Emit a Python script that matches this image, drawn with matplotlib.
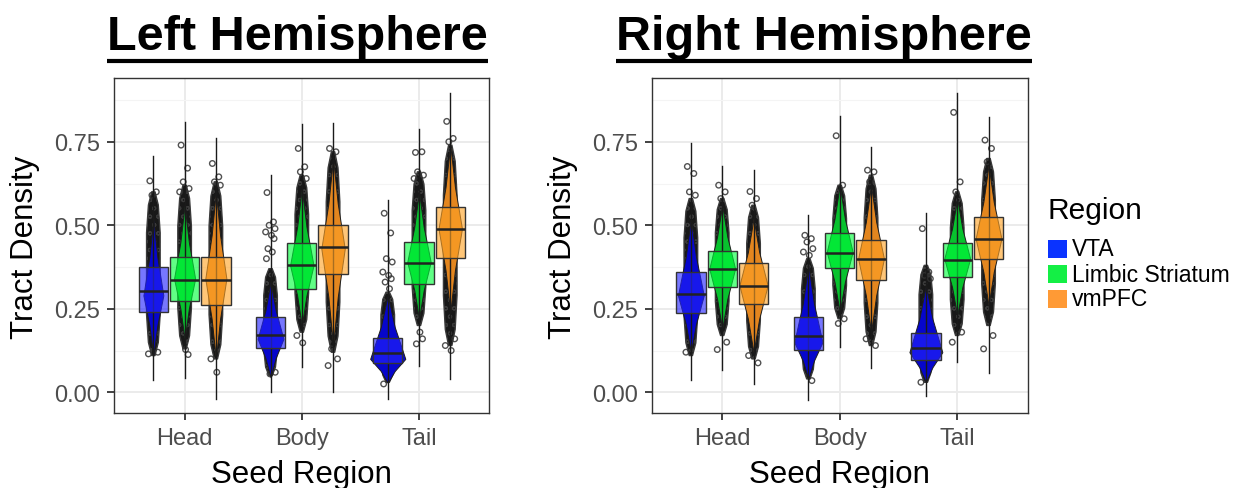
import numpy as np
import matplotlib
matplotlib.use("Agg")
import matplotlib.pyplot as plt
from matplotlib.colors import to_rgba
from matplotlib.patches import Rectangle
from matplotlib.lines import Line2D

plt.rcParams['font.family'] = ['Liberation Sans', 'DejaVu Sans']
plt.rcParams['hatch.color'] = '#4a4a4a'
plt.rcParams['hatch.linewidth'] = 0.8

# ---------------- data ----------------
SEEDS = ['Head', 'Body', 'Tail']
REGIONS = ['VTA', 'Limbic Striatum', 'vmPFC']
TITLES = ['Left Hemisphere', 'Right Hemisphere']
Y_TICKS = [0.00, 0.25, 0.50, 0.75]
Y_TICKLABELS = ['0.00', '0.25', '0.50', '0.75']

# rows = region (VTA, Limbic Striatum, vmPFC); columns = seed (Head, Body, Tail)
L_Q1 = [[0.239, 0.132, 0.087], [0.274, 0.309, 0.323], [0.262, 0.355, 0.403]]
L_MED = [[0.302, 0.171, 0.118], [0.337, 0.381, 0.386], [0.336, 0.434, 0.488]]
L_Q3 = [[0.376, 0.224, 0.162], [0.406, 0.448, 0.449], [0.406, 0.500, 0.555]]
L_LINE_LO = [[0.038, 0.000, -0.020], [0.042, 0.075, 0.078], [-0.020, 0.000, 0.040]]
L_LINE_HI = [[0.706, 0.650, 0.577], [0.808, 0.802, 0.788], [0.760, 0.806, 0.897]]
L_VIO_LO = [[0.11, 0.045, 0.028], [0.16, 0.20, 0.22], [0.10, 0.14, 0.24]]
L_VIO_PK = [[0.29, 0.16, 0.10], [0.34, 0.38, 0.39], [0.34, 0.43, 0.49]]
L_VIO_HI = [[0.52, 0.33, 0.29], [0.56, 0.61, 0.60], [0.60, 0.70, 0.74]]
L_VIO_W = [[0.17, 0.22, 0.30], [0.18, 0.20, 0.20], [0.18, 0.20, 0.20]]
L_CLOUD_LO = [[0.11, 0.05, 0.03], [0.13, 0.18, 0.20], [0.10, 0.12, 0.14]]
L_CLOUD_HI = [[0.60, 0.37, 0.30], [0.62, 0.65, 0.66], [0.63, 0.72, 0.74]]
L_POINTS = [
    [[0.633, 0.60, 0.59, 0.12, 0.115],
     [0.598, 0.51, 0.50, 0.49, 0.48, 0.47, 0.46, 0.43, 0.42, 0.40, 0.06, 0.055],
     [0.536, 0.477, 0.40, 0.39, 0.36, 0.35, 0.34, 0.33, 0.31, 0.025]],
    [[0.740, 0.671, 0.63, 0.61, 0.60, 0.128, 0.113],
     [0.730, 0.675, 0.66, 0.64, 0.17, 0.148],
     [0.718, 0.72, 0.66, 0.65, 0.64, 0.18, 0.16, 0.145]],
    [[0.685, 0.645, 0.63, 0.62, 0.10, 0.06],
     [0.73, 0.72, 0.13, 0.10, 0.08],
     [0.811, 0.76, 0.75, 0.16, 0.14, 0.125]],
]

R_Q1 = [[0.236, 0.128, 0.098], [0.314, 0.371, 0.344], [0.264, 0.336, 0.398]]
R_MED = [[0.293, 0.168, 0.134], [0.368, 0.416, 0.395], [0.319, 0.399, 0.460]]
R_Q3 = [[0.361, 0.224, 0.178], [0.424, 0.476, 0.448], [0.386, 0.456, 0.524]]
R_LINE_LO = [[0.036, -0.022, -0.012], [0.068, 0.136, 0.091], [0.024, 0.074, 0.058]]
R_LINE_HI = [[0.746, 0.530, 0.536], [0.678, 0.826, 0.896], [0.666, 0.734, 0.824]]
R_VIO_LO = [[0.12, 0.04, 0.03], [0.19, 0.24, 0.23], [0.12, 0.18, 0.26]]
R_VIO_PK = [[0.29, 0.15, 0.12], [0.37, 0.42, 0.40], [0.32, 0.40, 0.46]]
R_VIO_HI = [[0.52, 0.38, 0.32], [0.56, 0.62, 0.58], [0.52, 0.62, 0.68]]
R_VIO_W = [[0.22, 0.24, 0.28], [0.22, 0.22, 0.22], [0.24, 0.22, 0.22]]
R_CLOUD_LO = [[0.11, 0.04, 0.03], [0.17, 0.22, 0.17], [0.10, 0.14, 0.20]]
R_CLOUD_HI = [[0.58, 0.40, 0.38], [0.58, 0.62, 0.60], [0.56, 0.65, 0.70]]
R_POINTS = [
    [[0.676, 0.655, 0.60, 0.59, 0.12],
     [0.47, 0.46, 0.45, 0.43, 0.42, 0.41, 0.035],
     [0.490, 0.36, 0.35, 0.34, 0.03]],
    [[0.62, 0.60, 0.58, 0.15, 0.128],
     [0.768, 0.62, 0.206, 0.22],
     [0.838, 0.63, 0.60, 0.18, 0.15]],
    [[0.601, 0.58, 0.56, 0.088, 0.11],
     [0.665, 0.66, 0.63, 0.14, 0.16],
     [0.755, 0.73, 0.69, 0.17, 0.13]],
]

# ---------------- style ----------------
KEY_COLORS = ['#0a33ff', '#14ef45', '#ff9a35']
VIOLIN_COLORS = ['#0606cc', '#08c22e', '#e3861f']
BOX_COLORS = ['#2424ff', '#00ff3c', '#ffa326']
DODGE = 0.8 / 3
JITTER = [-0.03, 0.025, -0.012, 0.038, -0.042, 0.008, 0.03, -0.022, 0.015, -0.035, 0.04, -0.005]

W, H = 1250, 489
fig = plt.figure(figsize=(W / 100, H / 100), dpi=100)


def px_axes(x0, y0, x1, y1):
    return fig.add_axes([x0 / W, 1 - y1 / H, (x1 - x0) / W, (y1 - y0) / H])


def draw_panel(ax, Q1, MED, Q3, LLO, LHI, VLO, VPK, VHI, VW, CLO, CHI, PTS):
    ax.set_yticks(Y_TICKS)
    ax.set_yticklabels(Y_TICKLABELS)
    ax.set_yticks([0.125, 0.375, 0.625, 0.875], minor=True)
    ax.set_xticks([1, 2, 3])
    ax.set_xticklabels(SEEDS)
    ax.grid(which='major', color='#ebebeb', lw=1.4, zorder=0)
    ax.grid(which='minor', axis='y', color='#f4f4f4', lw=0.8, zorder=0)
    ax.set_axisbelow(True)
    ax.tick_params(which='minor', length=0)
    ax.tick_params(which='major', length=5, width=1.3, color='#333333',
                   labelsize=17, labelcolor='#4d4d4d', pad=5)
    for s in ax.spines.values():
        s.set_color('#333333')
        s.set_linewidth(1.0)

    for r in range(3):
        for i in range(3):
            x = i + 1 + (r - 1) * DODGE
            # dense point cloud
            lo, hi = CLO[r][i], CHI[r][i]
            span = hi - lo
            ys = np.array([lo, lo + 0.08 * span, lo + 0.25 * span, hi - 0.25 * span, hi - 0.08 * span, hi])
            hw = np.array([0.014, 0.042, 0.058, 0.058, 0.042, 0.014])
            ax.fill_betweenx(ys, x - hw, x + hw, facecolor='#181818', edgecolor='#3a3a3a',
                             lw=1.0, hatch='oo', zorder=1.5)
            # isolated points
            pts = PTS[r][i]
            jx = [x + JITTER[k % len(JITTER)] for k in range(len(pts))]
            ax.scatter(jx, pts, s=16, facecolors='none', edgecolors='#333333',
                       linewidths=1.0, alpha=0.85, zorder=1.6)
            # violin
            lo_v, pk, hi_v = VLO[r][i], VPK[r][i], VHI[r][i]
            stats = [dict(coords=np.array([lo_v, (lo_v + pk) / 2, pk, (pk + hi_v) / 2, hi_v]),
                          vals=np.array([0.0, 0.4, 1.0, 0.4, 0.0]),
                          mean=pk, median=pk, min=lo_v, max=hi_v)]
            vp = ax.violin(stats, positions=[x], widths=VW[r][i], showmeans=False,
                           showextrema=False, showmedians=False)
            for b in vp['bodies']:
                b.set_facecolor(VIOLIN_COLORS[r])
                b.set_edgecolor('#1e1e1e')
                b.set_linewidth(0.7)
                b.set_alpha(1)
                b.set_zorder(2)
            # vertical range line
            ax.plot([x, x], [LLO[r][i], LHI[r][i]], color='#1a1a1a', lw=1.0, zorder=3)
            # box
            bstats = [dict(med=MED[r][i], q1=Q1[r][i], q3=Q3[r][i],
                           whislo=Q1[r][i], whishi=Q3[r][i])]
            bp = ax.bxp(bstats, positions=[x], widths=0.25, patch_artist=True,
                        showfliers=False, showcaps=False, manage_ticks=False,
                        boxprops=dict(facecolor=to_rgba(BOX_COLORS[r], 0.62),
                                      edgecolor='#333333', linewidth=1.0),
                        medianprops=dict(color='#222222', linewidth=1.8),
                        whiskerprops=dict(linewidth=0))
            for b in bp['boxes']:
                b.set_zorder(4)
            for m in bp['medians']:
                m.set_zorder(5)
    ax.set_xlim(0.4, 3.6)
    ax.set_ylim(-0.062, 0.940)


axL = px_axes(114.3, 79.3, 489.3, 414)
axR = px_axes(651.7, 79.3, 1027.7, 414)
draw_panel(axL, L_Q1, L_MED, L_Q3, L_LINE_LO, L_LINE_HI, L_VIO_LO, L_VIO_PK, L_VIO_HI,
           L_VIO_W, L_CLOUD_LO, L_CLOUD_HI, L_POINTS)
draw_panel(axR, R_Q1, R_MED, R_Q3, R_LINE_LO, R_LINE_HI, R_VIO_LO, R_VIO_PK, R_VIO_HI,
           R_VIO_W, R_CLOUD_LO, R_CLOUD_HI, R_POINTS)

# axis titles
for cx_ylab, cx_xlab in [(25, 301.7), (563, 839.7)]:
    fig.text(cx_ylab / W, 1 - 247.5 / H, 'Tract Density', rotation=90, ha='center',
             va='center', fontsize=22.5, color='black')
    fig.text(cx_xlab / W, 1 - 483 / H, 'Seed Region', ha='center', va='baseline',
             fontsize=22.5, color='black')

# titles with underline
title_texts = []
for cx, t in zip([297.5, 824], TITLES):
    title_texts.append(fig.text(cx / W, 1 - 50 / H, t, ha='center', va='baseline',
                                fontsize=35, fontweight='bold', color='black'))
fig.canvas.draw()
rend = fig.canvas.get_renderer()
for tt in title_texts:
    bb = tt.get_window_extent(rend)
    fig.add_artist(Line2D([bb.x0 / W, bb.x1 / W], [1 - 61.5 / H, 1 - 61.5 / H],
                          transform=fig.transFigure, color='black', lw=3.0,
                          solid_capstyle='butt'))

# legend
fig.text(1048 / W, 1 - 211 / H, 'Region', ha='left', va='center', fontsize=21.5, color='black')
for k, (lab, col) in enumerate(zip(REGIONS, KEY_COLORS)):
    yc = 250 + 25 * k
    fig.add_artist(Rectangle((1048 / W, 1 - (yc + 9) / H), 19 / W, 18 / H,
                             transform=fig.transFigure, facecolor=col, edgecolor='none'))
    fig.text(1072 / W, 1 - yc / H, lab, ha='left', va='center', fontsize=16.5, color='black')

fig.savefig('out.png', dpi=100)
